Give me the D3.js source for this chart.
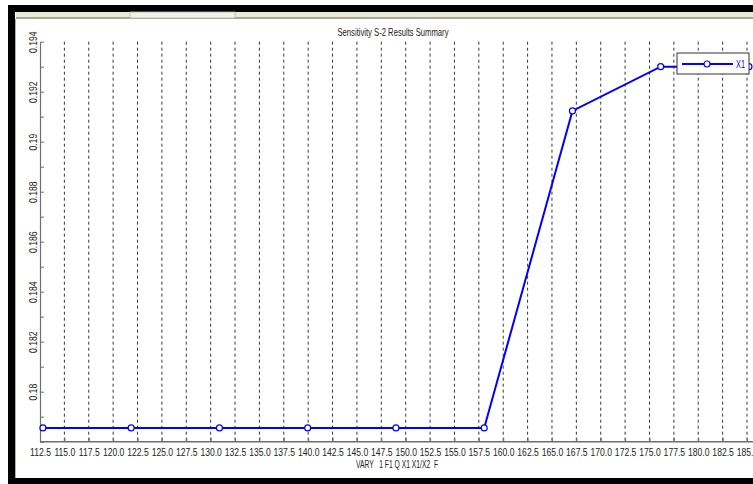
<!DOCTYPE html>
<html>
<head>
<meta charset="utf-8">
<script src="https://cdn.jsdelivr.net/npm/d3@7"></script>
<style>
  html, body { margin: 0; padding: 0; background: #fff; overflow: hidden; }
  svg { display: block; }
  text { font-family: "Liberation Sans", Arial, sans-serif; }
</style>
</head>
<body>
<svg id="chart" width="753" height="484"></svg>
<script>
// Sweep values of the varied parameter and the resulting X1
const xValues = [112.8, 121.85, 130.9, 139.95, 149.0, 158.05, 167.1, 176.15, 185.2];
const x1Values = [0.17855, 0.17855, 0.17855, 0.17855, 0.17855, 0.17855, 0.19123, 0.19300, 0.19300];

// Axis ticks
const xTicks = d3.range(0, 30).map(i => 112.5 + i * 2.5);
const yTicks = d3.range(0, 17).map(i => +(0.178 + i * 0.001).toFixed(3));
const yLabelled = [0.18, 0.182, 0.184, 0.186, 0.188, 0.19, 0.192, 0.194];

const titleText = "Sensitivity S-2 Results Summary";
const xLabelText = "VARY   1 F1 Q X1 X1/X2  F";
const seriesName = "X1";

const svg = d3.select("#chart");
const W = 753, H = 484;

// Window frame around the figure
svg.append("rect").attr("x", 0).attr("y", 0).attr("width", W).attr("height", H).attr("fill", "#fff");
svg.append("rect").attr("x", 8).attr("y", 5).attr("width", W - 8).attr("height", 7).attr("fill", "#000");
svg.append("rect").attr("x", 16).attr("y", 12).attr("width", W - 16).attr("height", 6).attr("fill", "#ece9d8");
svg.append("rect").attr("x", 16).attr("y", 17).attr("width", W - 16).attr("height", 2).attr("fill", "#a8a796");
svg.append("rect").attr("x", 130).attr("y", 12).attr("width", 105).attr("height", 6)
  .attr("fill", "#f2f0e4").attr("stroke", "#b9b7a6").attr("stroke-width", 0.8);
svg.append("rect").attr("x", 8).attr("y", 5).attr("width", 7).attr("height", H - 5).attr("fill", "#000");
svg.append("rect").attr("x", 15).attr("y", 19).attr("width", 1).attr("height", H - 25).attr("fill", "#b0b0b0");
svg.append("rect").attr("x", 8).attr("y", 478).attr("width", W - 8).attr("height", 6).attr("fill", "#000");

// Scales
const x = d3.scaleLinear().domain([112.5, 185]).range([40, 747]);
const y = d3.scaleLinear().domain([0.178, 0.194]).range([441.7, 41.7]);

const axisColor = "#6e6e6e";
const textColor = "#222";
const squeeze = 0.86; // condensed label face

// Vertical dashed grid at each x tick
svg.append("g").selectAll("line").data(xTicks.slice(1)).join("line")
  .attr("x1", d => x(d)).attr("x2", d => x(d))
  .attr("y1", y(0.194)).attr("y2", y(0.178))
  .attr("stroke", "#000").attr("stroke-width", 0.8)
  .attr("stroke-dasharray", "3,3");

// X axis
const gx = svg.append("g").attr("transform", `translate(0,${y(0.178)})`)
  .call(d3.axisBottom(x).tickValues(xTicks).tickFormat(d3.format(".1f"))
    .tickSize(-4).tickSizeOuter(0).tickPadding(7));
gx.select(".domain").attr("stroke", axisColor).attr("stroke-width", 1.5)
  .attr("d", `M${x(112.5)},0H${W}`);
gx.selectAll(".tick line").attr("stroke", axisColor);
gx.selectAll(".tick text").attr("fill", textColor).attr("font-size", 10)
  .attr("transform", `scale(${squeeze},1)`);

// Y axis
const gy = svg.append("g").attr("transform", `translate(${x(112.5)},0)`)
  .call(d3.axisLeft(y).tickValues(yTicks)
    .tickFormat(d => yLabelled.includes(d) ? String(d) : "")
    .tickSize(-4).tickSizeOuter(0));
gy.select(".domain").attr("stroke", axisColor).attr("stroke-width", 1.2);
gy.selectAll(".tick line").attr("stroke", axisColor);
gy.selectAll(".tick text")
  .attr("fill", textColor).attr("font-size", 10)
  .attr("x", 0).attr("dy", 0).attr("text-anchor", "middle")
  .attr("transform", `translate(-3,0) rotate(-90) scale(${squeeze},1)`);

// Title and x label
svg.append("text").attr("x", 393).attr("y", 36).attr("text-anchor", "middle")
  .attr("font-size", 11).attr("fill", textColor)
  .attr("textLength", 111).attr("lengthAdjust", "spacingAndGlyphs").text(titleText);
svg.append("text").attr("x", 397).attr("y", 468).attr("text-anchor", "middle")
  .attr("font-size", 10).attr("fill", textColor).attr("xml:space", "preserve")
  .style("white-space", "pre")
  .attr("textLength", 82).attr("lengthAdjust", "spacingAndGlyphs").text(xLabelText);

// Series line and markers
const pts = xValues.map((v, i) => [v, x1Values[i]]);
const blue = "#0000ff";
svg.append("path").datum(pts)
  .attr("fill", "none").attr("stroke", blue).attr("stroke-width", 2)
  .attr("d", d3.line().x(d => x(d[0])).y(d => y(d[1])));
svg.append("g").selectAll("circle").data(pts).join("circle")
  .attr("cx", d => x(d[0])).attr("cy", d => y(d[1])).attr("r", 3)
  .attr("fill", "#fff").attr("stroke", blue).attr("stroke-width", 1.2);

// Legend
const lg = svg.append("g").attr("transform", "translate(677,53)");
lg.append("rect").attr("width", 72).attr("height", 21)
  .attr("fill", "#fff").attr("stroke", "#333").attr("stroke-width", 1);
lg.append("line").attr("x1", 5).attr("x2", 56).attr("y1", 11).attr("y2", 11)
  .attr("stroke", blue).attr("stroke-width", 2);
lg.append("circle").attr("cx", 30).attr("cy", 11).attr("r", 3)
  .attr("fill", "#fff").attr("stroke", blue).attr("stroke-width", 1.2);
lg.append("text").attr("x", 59).attr("y", 15).attr("font-size", 10)
  .attr("fill", blue).attr("textLength", 9).attr("lengthAdjust", "spacingAndGlyphs")
  .text(seriesName);
</script>
</body>
</html>
